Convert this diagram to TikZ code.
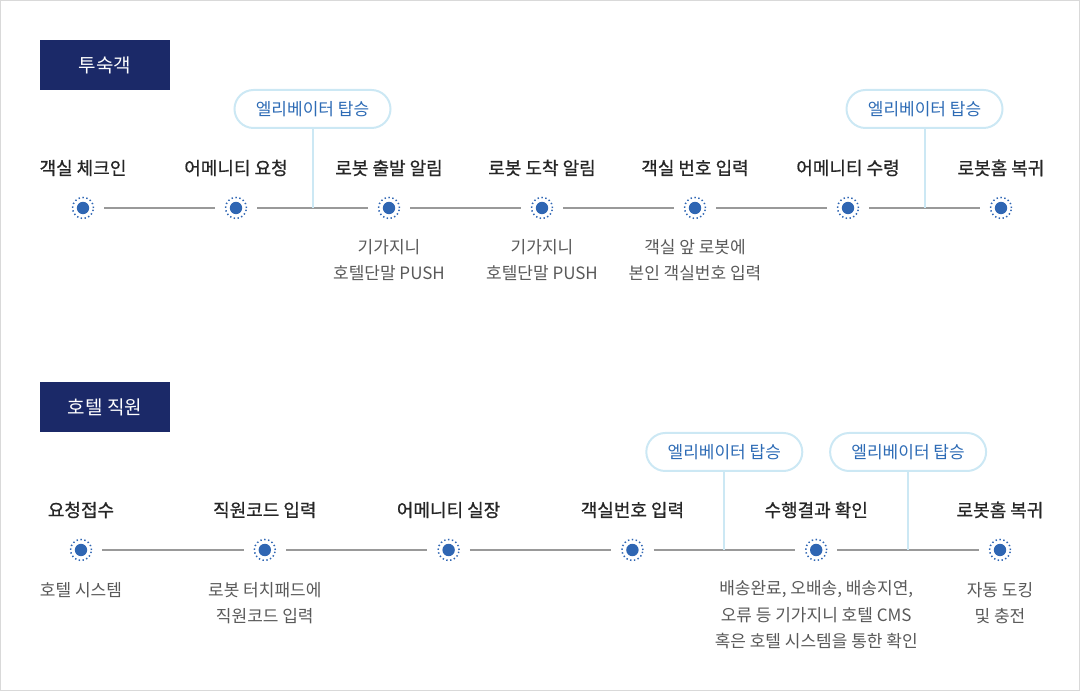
\documentclass[tikz,border=0pt]{standalone}
\usepackage{fontspec}
\setmainfont{Noto Sans CJK KR}
\newfontfamily\titlefont[FakeBold=0.8]{Noto Sans CJK KR}
\usepackage{xcolor}
\usepackage{tikz}
\usetikzlibrary{positioning}
\definecolor{navy}{HTML}{1B2968}
\definecolor{dotblue}{HTML}{2F66B3}
\definecolor{liftline}{HTML}{CCE8F4}
\definecolor{lifttext}{HTML}{2D6BB5}
\tikzset{edge/.style = {draw=black!40, line width=1.4pt, shorten <=10pt, shorten >=10pt}}

\begin{document}
\begin{tikzpicture}[x=1pt,y=1pt,node distance=153pt,
    main node/.style={circle,draw=dotblue,line width=1.5pt,dash pattern=on 1.4pt off 2.5pt,minimum size=21pt,inner sep=0pt,
        path picture={\fill[dotblue] (path picture bounding box.center) circle (6.2pt);}},
    step title/.style={font=\titlefont\fontsize{18}{21}\selectfont,text=black!85},
    step note/.style={font=\fontsize{17}{26.5}\selectfont,text=black!65,align=center},
    lift/.style={draw=liftline,line width=2pt,rounded corners=19pt,minimum width=156pt,minimum height=38pt,
        text=lifttext,font=\fontsize{17}{20}\selectfont},
    riser/.style={draw=liftline,line width=2pt},
    head/.style={fill=navy,text=white,minimum width=130pt,minimum height=50pt,font=\fontsize{19}{21}\selectfont}]
    \useasboundingbox (0,0) rectangle (1080,691);
    \draw[black!15] (0.5,0.5) rectangle (1079.5,690.5);

    % 투숙객
    \node[head] (guest) at (105,626) {투숙객};
    \node[main node] (g1) at (83,483) {};
    \node[main node] (g2) [right of=g1] {};
    \node[main node] (g3) [right of=g2] {};
    \node[main node] (g4) [right of=g3] {};
    \node[main node] (g5) [right of=g4] {};
    \node[main node] (g6) [right of=g5] {};
    \node[main node] (g7) [right of=g6] {};

    \path (g1) edge[edge] (g2)
          (g2) edge[edge] node[coordinate,midway] (m1) {} (g3)
          (g3) edge[edge] (g4)
          (g4) edge[edge] (g5)
          (g5) edge[edge] (g6)
          (g6) edge[edge] node[coordinate,midway] (m2) {} (g7);

    \node[lift] (e1) [above of=m1, node distance=99pt] {엘리베이터 탑승};
    \node[lift] (e2) [above of=m2, node distance=99pt] {엘리베이터 탑승};
    \draw[riser] (e1) -- (m1);
    \draw[riser] (e2) -- (m2);

    \node[step title] [above of=g1, node distance=40pt] {객실 체크인};
    \node[step title] [above of=g2, node distance=40pt] {어메니티 요청};
    \node[step title] [above of=g3, node distance=40pt] {로봇 출발 알림};
    \node[step title] [above of=g4, node distance=40pt] {로봇 도착 알림};
    \node[step title] [above of=g5, node distance=40pt] {객실 번호 입력};
    \node[step title] [above of=g6, node distance=40pt] {어메니티 수령};
    \node[step title] [above of=g7, node distance=40pt] {로봇홈 복귀};

    \node[step note] [below of=g3, node distance=52pt] {기가지니\\호텔단말 PUSH};
    \node[step note] [below of=g4, node distance=52pt] {기가지니\\호텔단말 PUSH};
    \node[step note] [below of=g5, node distance=52pt] {객실 앞 로봇에\\본인 객실번호 입력};

    % 호텔 직원
    \node[head] (staff) at (105,284) {호텔 직원};
    \node[main node] (h1) at (81,141) {};
    \node[main node] (h2) [right of=h1, node distance=183.8pt] {};
    \node[main node] (h3) [right of=h2, node distance=183.8pt] {};
    \node[main node] (h4) [right of=h3, node distance=183.8pt] {};
    \node[main node] (h5) [right of=h4, node distance=183.8pt] {};
    \node[main node] (h6) [right of=h5, node distance=183.8pt] {};

    \path (h1) edge[edge] (h2)
          (h2) edge[edge] (h3)
          (h3) edge[edge] (h4)
          (h4) edge[edge] node[coordinate,midway] (m3) {} (h5)
          (h5) edge[edge] node[coordinate,midway] (m4) {} (h6);

    \node[lift] (e3) [above of=m3, node distance=98pt] {엘리베이터 탑승};
    \node[lift] (e4) [above of=m4, node distance=98pt] {엘리베이터 탑승};
    \draw[riser] (e3) -- (m3);
    \draw[riser] (e4) -- (m4);

    \node[step title] [above of=h1, node distance=40pt] {요청접수};
    \node[step title] [above of=h2, node distance=40pt] {직원코드 입력};
    \node[step title] [above of=h3, node distance=40pt] {어메니티 실장};
    \node[step title] [above of=h4, node distance=40pt] {객실번호 입력};
    \node[step title] [above of=h5, node distance=40pt] {수행결과 확인};
    \node[step title] [above of=h6, node distance=40pt] {로봇홈 복귀};

    \node[step note] [below of=h1, node distance=40pt] {호텔 시스템};
    \node[step note] [below of=h2, node distance=53pt] {로봇 터치패드에\\직원코드 입력};
    \node[step note] [below of=h5, node distance=65pt] {배송완료, 오배송, 배송지연,\\오류 등 기가지니 호텔 CMS\\혹은 호텔 시스템을 통한 확인};
    \node[step note] [below of=h6, node distance=53pt] {자동 도킹\\및 충전};
\end{tikzpicture}
\end{document}
